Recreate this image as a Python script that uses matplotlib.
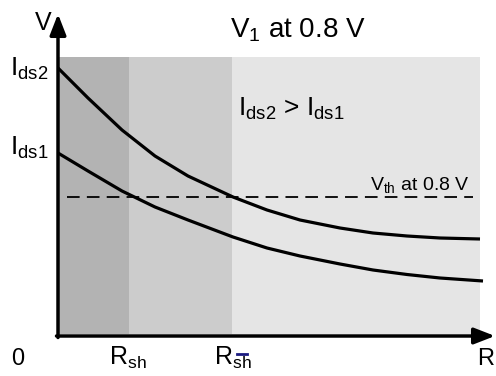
import matplotlib
matplotlib.use("Agg")
import matplotlib.pyplot as plt

plt.rcParams['font.family'] = ['Liberation Sans', 'DejaVu Sans']
plt.rcParams['mathtext.fontset'] = 'custom'
plt.rcParams['mathtext.rm'] = 'Liberation Sans'
plt.rcParams['mathtext.it'] = 'Liberation Sans'
plt.rcParams['mathtext.default'] = 'regular'

# resistance samples and the two voltage curves (arbitrary units)
r_hi = [0, 30, 64, 97, 130, 175, 209, 242, 282, 315, 349, 382, 422]
v_hi = [268, 238, 206, 180, 160, 139, 126, 116, 108, 103, 100, 98, 97]
r_lo = [0, 30, 64, 97, 130, 175, 209, 242, 282, 315, 349, 382, 425]
v_lo = [183, 165, 145, 129, 116, 99, 88, 80, 72, 66, 61.5, 58, 55]

# shaded regions: 0..Rsh, Rsh..Rsh_bar, Rsh_bar..end
region_edges = [0, 71, 174, 422]
region_colors = ['#b3b3b3', '#cccccc', '#e5e5e5']
region_top = 279

v_th = 139
th_span = (9, 415)

fig = plt.figure(figsize=(4.96, 3.76), dpi=100)
ax = fig.add_axes([0, 0, 1, 1])
ax.set_xlim(-58, 438)
ax.set_ylim(-40, 336)
ax.axis('off')

for i, c in enumerate(region_colors):
    ax.fill_between([region_edges[i], region_edges[i + 1]], 2, region_top,
                    color=c, lw=0, zorder=0)

ax.plot(r_hi, v_hi, color='black', lw=2.3, solid_capstyle='butt',
        solid_joinstyle='round', zorder=3)
ax.plot(r_lo, v_lo, color='black', lw=2.3, solid_capstyle='butt',
        solid_joinstyle='round', zorder=3)
ax.plot(th_span, [v_th, v_th], color='black', lw=1.3, dashes=(7, 4), zorder=2)

# axes with arrow heads
arrow = dict(arrowstyle='-|>,head_length=0.9,head_width=0.35', lw=2.5,
             color='black', shrinkA=0, shrinkB=0, mutation_scale=14)
ax.annotate('', xy=(0, 322), xytext=(0, -1.5), arrowprops=arrow, zorder=5)
ax.annotate('', xy=(437, 0), xytext=(-1.5, 0), arrowprops=arrow, zorder=5)

ax.text(-15, 306, 'V', fontsize=18, ha='center', va='baseline')
ax.text(172, 299, r'V$_1$ at 0.8 V', fontsize=20, ha='left', va='baseline')
ax.text(180, 220, r'I$_{ds2}$ > I$_{ds1}$', fontsize=19, ha='left', va='baseline')
ax.text(-48, 260, r'I$_{ds2}$', fontsize=19, ha='left', va='baseline')
ax.text(-48, 181, r'I$_{ds1}$', fontsize=19, ha='left', va='baseline')
ax.text(412, 146, r'V$_{th}$ at 0.8 V', fontsize=14, ha='right', va='baseline')

ax.text(-40, -29, '0', fontsize=17, ha='center', va='baseline')
ax.text(70, -29, r'R$_{sh}$', fontsize=18, ha='center', va='baseline')
ax.text(175, -29, r'R$_{sh}$', fontsize=18, ha='center', va='baseline')
ax.plot([179, 189], [-18, -18], color='#1a1a80', lw=2, zorder=6)
ax.text(428, -29, 'R', fontsize=17, ha='center', va='baseline')

fig.savefig('out.png', dpi=100)
